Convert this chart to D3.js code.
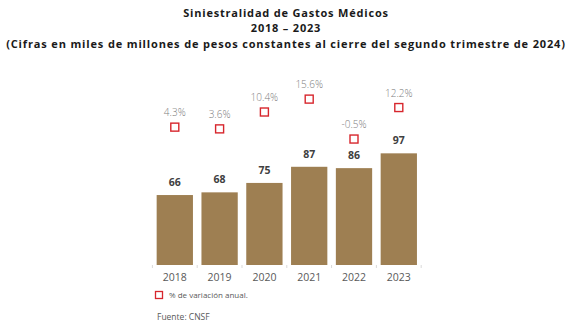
<!DOCTYPE html>
<html>
<head>
<meta charset="utf-8">
<script src="https://cdn.jsdelivr.net/npm/d3@7"></script>
<style>
  html, body { margin: 0; padding: 0; background: #ffffff; }
  svg { display: block; }
  text { font-family: "Open Sans", "Noto Sans", sans-serif; }
</style>
</head>
<body>
<svg id="chart" width="572" height="335"></svg>
<script>
// Gastos médicos: siniestralidad anual (miles de millones) y variación anual (%)
const years = ["2018", "2019", "2020", "2021", "2022", "2023"];
const siniestralidad = [66, 68, 75, 87, 86, 97];
const variacion = [4.3, 3.6, 10.4, 15.6, -0.5, 12.2];
const variacionLabels = ["4.3%", "3.6%", "10.4%", "15.6%", "-0.5%", "12.2%"];
const titleLines = [
  "Siniestralidad de Gastos Médicos",
  "2018 – 2023",
  "(Cifras en miles de millones de pesos constantes al cierre del segundo trimestre de 2024)"
];
const legendLabel = "% de variación anual.";
const sourceLabel = "Fuente: CNSF";

const svg = d3.select("#chart");
const W = 572;

const barColor = "#9e7f52";
const markerColor = "#d7262d";

// Titles
svg.selectAll("text.title")
  .data(titleLines)
  .join("text")
  .attr("class", "title")
  .attr("x", W / 2)
  .attr("y", (d, i) => [17, 32, 48][i])
  .attr("text-anchor", "middle")
  .attr("font-size", 11)
  .attr("letter-spacing", (d, i) => i === 2 ? 0.85 : 0.8)
  .attr("font-weight", 700)
  .attr("fill", "#1a1a1a")
  .text(d => d);

// Scales
const x = d3.scaleBand()
  .domain(years)
  .range([152.4, 421.2])
  .paddingInner(0.19)
  .paddingOuter(0.095);

const y = d3.scaleLinear()
  .domain([14, 100])
  .range([265, 149.3]);

const y2 = d3.scaleLinear()
  .domain([-5, 20])
  .range([150.2, 88.2]);

// Category axis: small ticks at band boundaries, no domain line
const boundaries = years.map(d => x(d) - x.step() * x.paddingInner() / 2)
  .concat([x(years[years.length - 1]) + x.bandwidth() + x.step() * x.paddingInner() / 2]);
svg.selectAll("line.tick")
  .data(boundaries)
  .join("line")
  .attr("class", "tick")
  .attr("x1", d => d).attr("x2", d => d)
  .attr("y1", y.range()[0]).attr("y2", y.range()[0] + 3)
  .attr("stroke", "#d9d9d9")
  .attr("stroke-width", 1);

svg.selectAll("text.year")
  .data(years)
  .join("text")
  .attr("class", "year")
  .attr("x", d => x(d) + x.bandwidth() / 2)
  .attr("y", 281)
  .attr("text-anchor", "middle")
  .attr("font-size", 10.5)
  .attr("fill", "#595959")
  .text(d => d);

// Bars
svg.selectAll("rect.bar")
  .data(siniestralidad)
  .join("rect")
  .attr("class", "bar")
  .attr("x", (d, i) => x(years[i]))
  .attr("width", x.bandwidth())
  .attr("y", d => y(d))
  .attr("height", d => y.range()[0] - y(d))
  .attr("fill", barColor);

svg.selectAll("text.value")
  .data(siniestralidad)
  .join("text")
  .attr("class", "value")
  .attr("x", (d, i) => x(years[i]) + x.bandwidth() / 2)
  .attr("y", d => y(d) - 9)
  .attr("text-anchor", "middle")
  .attr("font-size", 10.5)
  .attr("font-weight", 700)
  .attr("fill", "#404040")
  .text(d => d);

// Annual variation markers
const ms = 8;
svg.selectAll("rect.marker")
  .data(variacion)
  .join("rect")
  .attr("class", "marker")
  .attr("x", (d, i) => x(years[i]) + x.bandwidth() / 2 - ms / 2)
  .attr("y", d => y2(d) - ms / 2)
  .attr("width", ms)
  .attr("height", ms)
  .attr("fill", "#ffffff")
  .attr("stroke", markerColor)
  .attr("stroke-width", 1.4);

svg.selectAll("text.pct")
  .data(variacion)
  .join("text")
  .attr("class", "pct")
  .attr("x", (d, i) => x(years[i]) + x.bandwidth() / 2)
  .attr("y", d => y2(d) - 11)
  .attr("text-anchor", "middle")
  .attr("font-size", 10)
  .attr("font-weight", 300)
  .attr("fill", "#808080")
  .text((d, i) => variacionLabels[i]);

// Legend
svg.append("rect")
  .attr("x", 155.5).attr("y", 291.5)
  .attr("width", 7).attr("height", 7)
  .attr("fill", "#ffffff")
  .attr("stroke", markerColor)
  .attr("stroke-width", 1.3);

svg.append("text")
  .attr("x", 169).attr("y", 298)
  .attr("font-size", 8)
  .attr("fill", "#595959")
  .text(legendLabel);

svg.append("text")
  .attr("x", 157).attr("y", 320)
  .attr("font-size", 8.5)
  .attr("fill", "#595959")
  .text(sourceLabel);
</script>
</body>
</html>
